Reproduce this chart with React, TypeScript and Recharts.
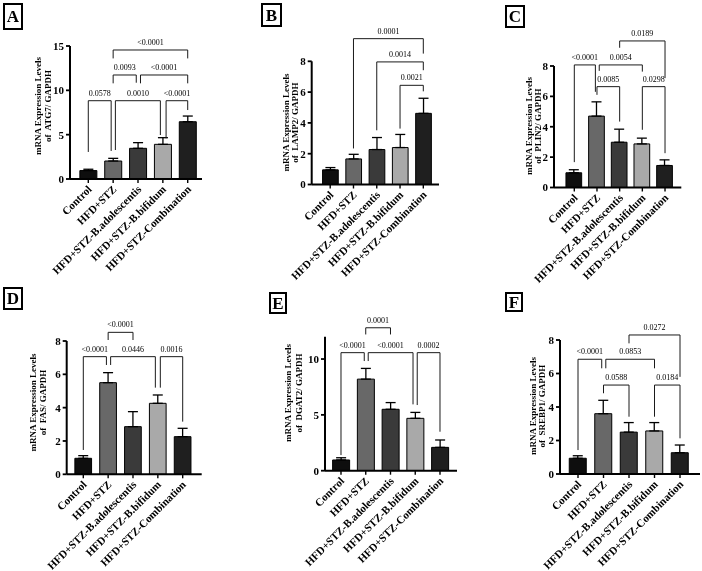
import React from 'react';
import { BarChart, Bar, XAxis, YAxis, Cell, ErrorBar, ReferenceLine } from 'recharts';

const FONT = "'Liberation Serif','Times New Roman',serif";

// ---------- data ----------
const categories = ['Control', 'HFD+STZ', 'HFD+STZ-B.adolescentis', 'HFD+STZ-B.bifidum', 'HFD+STZ-Combination'];
const barColors = ['#0e0e0e', '#686868', '#3a3a3a', '#a9a9a9', '#1f1f1f'];

const atg7Mean = [0.95, 2.03, 3.46, 3.91, 6.46];
const atg7Sd = [0.15, 0.3, 0.64, 0.75, 0.64];
const lamp2Mean = [0.95, 1.66, 2.27, 2.4, 4.62];
const lamp2Sd = [0.15, 0.3, 0.78, 0.85, 0.98];
const plin2Mean = [0.97, 4.7, 2.98, 2.87, 1.45];
const plin2Sd = [0.2, 0.94, 0.86, 0.38, 0.37];
const fasMean = [0.96, 5.5, 2.86, 4.26, 2.26];
const fasSd = [0.16, 0.6, 0.9, 0.5, 0.5];
const dgat2Mean = [0.96, 8.2, 5.5, 4.69, 2.09];
const dgat2Sd = [0.2, 0.96, 0.6, 0.53, 0.66];
const srebp1Mean = [0.94, 3.6, 2.5, 2.57, 1.27];
const srebp1Sd = [0.15, 0.8, 0.57, 0.5, 0.46];

// brackets: [groupA, groupB, height, legEndA, legEndB, p-value, legShiftA, legShiftB]
type Br = [number, number, number, number, number, string, number, number];
const atg7Brackets: Br[] = [
  [0, 1, 8.83, 3.05, 3.16, '0.0578', 0, -0.08],
  [1, 3, 8.83, 3.27, 4.96, '0.0010', 0.09, -0.1],
  [3, 4, 8.83, 4.59, 7.78, '<0.0001', 0.13, 0],
  [1, 2, 11.73, 10.79, 10.86, '0.0093', 0, -0.07],
  [2, 4, 11.73, 10.79, 10.79, '<0.0001', 0.1, 0],
  [1, 4, 14.55, 13.6, 13.6, '<0.0001', 0, 0],
];
const lamp2Brackets: Br[] = [
  [1, 4, 9.47, 2.34, 8.5, '0.0001', 0, 0],
  [2, 4, 7.96, 3.52, 7.42, '0.0014', 0, 0],
  [3, 4, 6.44, 3.63, 6.05, '0.0021', 0, 0],
];
const plin2Brackets: Br[] = [
  [0, 1, 8.07, 1.67, 6.3, '<0.0001', 0, -0.07],
  [1, 3, 8.07, 7.68, 7.63, '0.0054', 0.1, 0],
  [1, 2, 6.64, 6.1, 4.34, '0.0085', 0, 0],
  [3, 4, 6.64, 3.8, 2.26, '0.0298', 0, 0],
  [2, 4, 9.65, 9.2, 7.2, '0.0189', 0, 0],
];
const fasBrackets: Br[] = [
  [1, 2, 8.52, 8.06, 8.06, '<0.0001', 0, 0],
  [0, 1, 7.06, 1.46, 6.56, '<0.0001', 0, -0.07],
  [1, 3, 7.06, 6.56, 5.2, '0.0446', 0.1, -0.1],
  [3, 4, 7.06, 5.2, 3.16, '0.0016', 0.1, 0],
];
const dgat2Brackets: Br[] = [
  [1, 2, 12.8, 12.2, 12.2, '0.0001', 0, 0],
  [0, 1, 10.57, 1.4, 9.82, '<0.0001', 0, -0.06],
  [1, 3, 10.57, 9.82, 5.94, '<0.0001', 0.1, -0.09],
  [3, 4, 10.57, 5.88, 3.49, '0.0002', 0.08, 0],
];
const srebp1Brackets: Br[] = [
  [2, 4, 8.3, 7.8, 5.8, '0.0272', 0, 0],
  [0, 1, 6.85, 1.43, 6.31, '<0.0001', 0, -0.07],
  [1, 3, 6.85, 6.31, 6.31, '0.0853', 0.09, 0],
  [1, 2, 5.31, 4.82, 3.42, '0.0588', 0, 0],
  [3, 4, 5.31, 3.42, 2.13, '0.0184', 0, 0],
];

const ticks8 = [0, 2, 4, 6, 8];

// ---------- layout ----------
const panels = [
  { letter: 'A', gene: 'ATG7', mean: atg7Mean, sd: atg7Sd, br: atg7Brackets, yd: [0, 15], yt: [0, 5, 10, 15],
    x: 0, y: 0, w: 234, h: 285, left: 70, right: 202, top: 46, bottom: 179, xd: [-0.736, 4.575], bw: 17,
    t1: 38.3, t2: 47.7, tc: 106, box: [3, 3, 20, 27] },
  { letter: 'B', gene: 'LAMP2', mean: lamp2Mean, sd: lamp2Sd, br: lamp2Brackets, yd: [0, 8], yt: ticks8,
    x: 234, y: 0, w: 234, h: 285, left: 77.7, right: 205, top: 61.3, bottom: 184.5, xd: [-0.795, 4.674], bw: 15.7,
    t1: 51.7, t2: 61, tc: 122.5, box: [27, 3, 21, 24] },
  { letter: 'C', gene: 'PLIN2', mean: plin2Mean, sd: plin2Sd, br: plin2Brackets, yd: [0, 8], yt: ticks8,
    x: 468, y: 0, w: 234, h: 285, left: 86, right: 213.3, top: 66, bottom: 187.5, xd: [-0.895, 4.718], bw: 15.7,
    t1: 61, t2: 70, tc: 126, box: [37, 5, 20, 23] },
  { letter: 'D', gene: 'FAS', mean: fasMean, sd: fasSd, br: fasBrackets, yd: [0, 8], yt: ticks8,
    x: 0, y: 285, w: 234, h: 286, left: 66.7, right: 201.7, top: 56, bottom: 189.3, xd: [-0.668, 4.765], bw: 16.7,
    t1: 33.3, t2: 42.7, tc: 117.5, box: [3, 2, 20, 23] },
  { letter: 'E', gene: 'DGAT2', mean: dgat2Mean, sd: dgat2Sd, br: dgat2Brackets, yd: [0, 12], yt: [0, 5, 10],
    x: 234, y: 285, w: 234, h: 286, left: 91, right: 223, top: 51.7, bottom: 185.7, xd: [-0.646, 4.687], bw: 17,
    t1: 54.3, t2: 65, tc: 108, box: [35, 7, 18, 22] },
  { letter: 'F', gene: 'SREBP1', mean: srebp1Mean, sd: srebp1Sd, br: srebp1Brackets, yd: [0, 8], yt: ticks8,
    x: 468, y: 285, w: 234, h: 286, left: 92, right: 232, top: 55, bottom: 189, xd: [-0.706, 4.784], bw: 17,
    t1: 65, t2: 74, tc: 121, box: [37, 7, 18, 20] },
];

const XTick = (props: any) => {
  const { x, y, payload } = props;
  return (
    <text
      transform={`translate(${x + 4},${y + 5}) rotate(-45)`}
      textAnchor="end"
      fontSize={11}
      fontWeight={700}
      fontFamily={FONT}
      fill="#000"
    >
      {categories[payload.value]}
    </text>
  );
};

const PLabel = (props: any) => {
  const { viewBox, value } = props;
  if (!viewBox) return null;
  const cx = viewBox.x + (viewBox.width || 0) / 2;
  const cy = viewBox.y - 5;
  return (
    <text x={cx} y={cy} textAnchor="middle" fontSize={8} fontFamily={FONT} fill="#000">
      {value}
    </text>
  );
};

function Panel({ p }: { p: any }) {
  const data = categories.map((c, i) => ({ i, name: c, v: p.mean[i], err: [0, p.sd[i]] }));
  const xAxisH = 80;
  const lines: React.ReactNode[] = [];
  (p.br as Br[]).forEach((b, k) => {
    const [a, c, yv, ea, ec, t, sa, sc] = b;
    const xa = a + sa;
    const xc = c + sc;
    lines.push(
      <ReferenceLine key={`h${k}`} segment={[{ x: xa, y: yv }, { x: xc, y: yv }]} stroke="#1a1a1a" strokeWidth={1}
        ifOverflow="visible" label={<PLabel value={t} />} />,
      <ReferenceLine key={`a${k}`} segment={[{ x: xa, y: yv }, { x: xa, y: ea }]} stroke="#1a1a1a" strokeWidth={1} ifOverflow="visible" />,
      <ReferenceLine key={`c${k}`} segment={[{ x: xc, y: yv }, { x: xc, y: ec }]} stroke="#1a1a1a" strokeWidth={1} ifOverflow="visible" />
    );
  });
  const fs = 9;
  return (
    <div style={{ position: 'absolute', left: p.x, top: p.y, width: p.w, height: p.h }}>
      <BarChart
        width={p.w}
        height={p.h}
        data={data}
        margin={{ top: p.top, right: p.w - p.right, left: p.left - 30, bottom: p.h - p.bottom - xAxisH }}
      >
        <XAxis
          type="number"
          dataKey="i"
          domain={p.xd}
          ticks={[0, 1, 2, 3, 4]}
          interval={0}
          allowDataOverflow
          height={xAxisH}
          tick={<XTick />}
          tickSize={4}
          axisLine={{ stroke: '#000', strokeWidth: 2 }}
          tickLine={{ stroke: '#000', strokeWidth: 1.4 }}
        />
        <YAxis
          type="number"
          domain={p.yd}
          ticks={p.yt}
          interval={0}
          allowDataOverflow
          width={30}
          tickSize={4}
          tickMargin={2}
          axisLine={{ stroke: '#000', strokeWidth: 2 }}
          tickLine={{ stroke: '#000', strokeWidth: 1.8 }}
          tick={{ fontSize: 11, fontWeight: 700, fill: '#000', fontFamily: FONT }}
        />
        <Bar dataKey="v" barSize={p.bw} stroke="#000" strokeWidth={1} isAnimationActive={false}>
          {data.map((d, i) => (
            <Cell key={i} fill={barColors[i]} />
          ))}
          <ErrorBar dataKey="err" width={5} stroke="#000" strokeWidth={1.3} direction="y" />
        </Bar>
        {lines}
      </BarChart>
      <svg width={p.w} height={p.h} style={{ position: 'absolute', left: 0, top: 0, pointerEvents: 'none' }}>
        <text x={p.t1 + 3} y={p.tc} transform={`rotate(-90 ${p.t1 + 3} ${p.tc})`} textAnchor="middle"
          fontSize={fs} fontWeight={700} fontFamily={FONT} fill="#000">mRNA Expression Levels</text>
        <text x={p.t2 + 3} y={p.tc} transform={`rotate(-90 ${p.t2 + 3} ${p.tc})`} textAnchor="middle"
          fontSize={fs} fontWeight={700} fontFamily={FONT} fill="#000" style={{ whiteSpace: 'pre' }}>{`of  ${p.gene}/ GAPDH`}</text>
      </svg>
      <div
        style={{
          position: 'absolute', left: p.box[0], top: p.box[1], width: p.box[2], height: p.box[3],
          border: '2px solid #000', boxSizing: 'border-box', display: 'flex', alignItems: 'center',
          justifyContent: 'center', fontFamily: FONT, fontWeight: 700, fontSize: 17, lineHeight: 1, color: '#000',
        }}
      >
        {p.letter}
      </div>
    </div>
  );
}

export default function App() {
  return (
    <div
      style={{
        position: 'absolute', left: 0, top: 0, width: 702, height: 571, background: '#fff',
        overflow: 'hidden', filter: 'grayscale(1)',
      }}
    >
      {panels.map((p) => (
        <Panel key={p.letter} p={p} />
      ))}
    </div>
  );
}
